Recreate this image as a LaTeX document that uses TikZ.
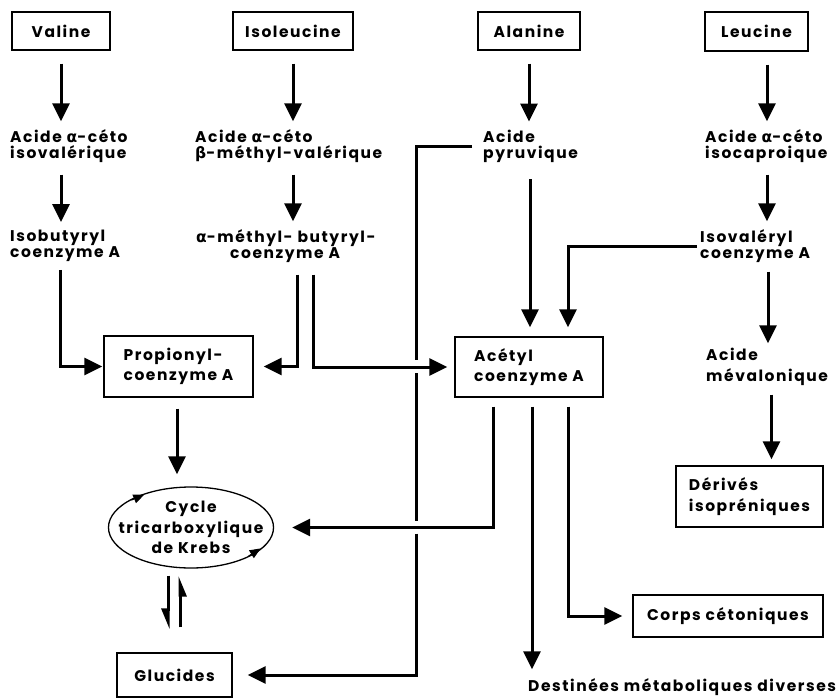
\documentclass[tikz,border=0pt]{standalone}
\usepackage{fontspec}
\setmainfont{Poppins}[LetterSpace=10]
\newfontfamily\grk{DejaVu Sans}
\usetikzlibrary{arrows.meta,shapes.geometric}
\newcommand\galpha{{\grk\bfseries α}}
\newcommand\gbeta{{\grk\bfseries β}}
\newcommand\tightfont{\bfseries\fontsize{15.5}{16}\selectfont}
\newcommand\loosefont{\bfseries\fontsize{15.5}{20.5}\selectfont}
\begin{document}
\begin{tikzpicture}[x=1pt,y=-1pt,
  box/.style={draw, line width=1.3pt, inner sep=0pt, align=left, font=\loosefont},
  lbl/.style={inner sep=0pt, anchor=west, align=left, font=\tightfont},
  conn/.style={line width=3pt},
  arr/.style={conn, -{Triangle[length=18pt,width=17pt]}},
  harp/.style={conn, -{Triangle[right,length=17pt,width=13pt]}},
  tick/.style={line width=1pt, -{Triangle[length=11pt,width=9pt]}}]
\useasboundingbox (0,0) rectangle (840,698);

% amino acids
\node[box, minimum width=98pt,  minimum height=38pt] (val) at (61,31)     {Valine};
\node[box, minimum width=120pt, minimum height=38pt] (iso) at (293,31)    {Isoleucine};
\node[box, minimum width=102pt, minimum height=38pt] (ala) at (529,31)    {Alanine};
\node[box, minimum width=103pt, minimum height=39pt] (leu) at (756.5,31.5) {Leucine};

% intermediates
\node[lbl] (vk)  at (10,146)  {Acide \galpha-céto\\isovalérique};
\node[lbl] (vi)  at (10,246)  {Isobutyryl\\coenzyme A};
\node[lbl] (ik)  at (195,146) {Acide \galpha-céto\\\gbeta-méthyl-valérique};
\node[lbl] (im)  at (196,246) {\galpha-méthyl- butyryl-\\\hspace*{34pt}coenzyme A};
\node[lbl] (pyr) at (483,146) {Acide\\pyruvique};
\node[lbl] (lk)  at (705,146) {Acide \galpha-céto\\isocaproique};
\node[lbl] (lv)  at (700,246) {Isovaléryl\\coenzyme A};
\node[lbl, font=\loosefont] (mev) at (706,367) {Acide\\mévalonique};

% products
\node[box, minimum width=149pt, minimum height=61pt] (prop)  at (178.5,366.5) {Propionyl-\\coenzyme A};
\node[box, minimum width=148pt, minimum height=60pt] (acet)  at (529,367)     {Acétyl\\coenzyme A};
\node[box, minimum width=147pt, minimum height=61pt] (der)   at (749.5,496.5) {Dérivés\\isopréniques};
\node[box, minimum width=190pt, minimum height=42pt] (corps) at (728,616)     {Corps cétoniques};
\node[box, minimum width=115pt, minimum height=44pt] (gluc)  at (174.5,675)   {Glucides};
\node[draw, ellipse, line width=1.3pt, minimum width=162pt, minimum height=81pt,
      inner xsep=-14pt, inner ysep=-4pt, align=center, font=\loosefont] (kr) at (191,527.5)
      {Cycle\\tricarboxylique\\de Krebs};
\node[lbl] (dest) at (528,687) {Destinées métaboliques diverses};

% cycle direction marks
\draw[tick] ([shift={(-59.6,-27.4)}]kr.center) -- ([shift={(-46.7,-32.9)}]kr.center);
\draw[tick] ([shift={(57.6,28.5)}]kr.center) -- ([shift={(69.7,20.9)}]kr.center);

% valine
\draw[arr, shorten <=13pt, shorten >=8pt] (val.south) -- (val.south |- vk.north);
\draw[arr, shorten <=12pt, shorten >=8pt] (val.south |- vk.south) -- (val.south |- vi.north);
\draw[arr, shorten <=8pt, shorten >=1pt] ([xshift=-1pt]val.south |- vi.south) |- (prop.west);

% isoleucine
\draw[arr, shorten <=13pt, shorten >=8pt] (iso.south) -- (iso.south |- ik.north);
\draw[arr, shorten <=12pt, shorten >=8pt] (iso.south |- ik.south) -- (iso.south |- im.north);

% pyruvate branch to glucides, broken where other lines cross
\coordinate (pc) at (416,147);
\draw[conn, shorten <=11pt] (pyr.west) -| ([yshift=7pt]pc |- acet.west);
\draw[conn] ([yshift=-6pt]pc |- acet.west) -- ([yshift=7pt]pc |- kr.east);
\draw[arr, shorten >=15pt] ([yshift=-6pt]pc |- kr.east) |- (gluc.east);

% alpha-methyl-butyryl-CoA splits
\draw[arr, shorten <=12pt, shorten >=10pt] ([xshift=4pt]iso.south |- im.south) |- (prop.east);
\draw[arr, shorten <=12pt, shorten >=7pt] ([xshift=20pt]iso.south |- im.south) |- (acet.west);

% alanine
\draw[arr, shorten <=13pt, shorten >=8pt] (ala.south) -- (ala.south |- pyr.north);
\draw[arr, shorten <=17pt, shorten >=9pt] ([xshift=1pt]ala.south |- pyr.south) -- ([xshift=1pt]acet.north);

% leucine
\draw[arr, shorten <=13pt, shorten >=8pt] ([xshift=10.5pt]leu.south) -- ([xshift=10.5pt]leu.south |- lk.north);
\draw[arr, shorten <=12pt, shorten >=8pt] ([xshift=10.5pt]leu.south |- lk.south) -- ([xshift=10.5pt]leu.south |- lv.north);
\draw[arr, shorten <=3pt, shorten >=9pt] (lv.west) -| ([xshift=39pt]acet.north);
\draw[arr, shorten <=9pt, shorten >=5pt] ([xshift=11.5pt]leu.south |- lv.south) -- ([xshift=11.5pt]leu.south |- mev.north);
\draw[arr, shorten <=9pt, shorten >=6pt] ([xshift=22pt]der.north |- mev.south) -- ([xshift=22pt]der.north);

% acetyl-CoA fates
\draw[arr, shorten <=9pt, shorten >=18pt] ([xshift=-36pt]acet.south) |- (kr.east);
\draw[arr, shorten <=9pt, shorten >=9pt] ([xshift=3pt]acet.south) -- ([xshift=3pt]acet.south |- dest.north);
\draw[arr, shorten <=9pt, shorten >=10pt] ([xshift=39pt]acet.south) |- (corps.west);

% propionyl-CoA to Krebs cycle, and exchange with glucides
\draw[arr, shorten <=11pt, shorten >=12pt] ([xshift=-1.5pt]prop.south) -- ([xshift=-1.5pt]prop.south |- kr.north);
\draw[harp, shorten <=7pt, shorten >=23pt] ([xshift=-23pt]kr.south) -- ([xshift=-23pt]kr.south |- gluc.north);
\draw[harp, shorten <=25pt, shorten >=7pt] ([xshift=-11pt]kr.south |- gluc.north) -- ([xshift=-11pt]kr.south);
\end{tikzpicture}
\end{document}
